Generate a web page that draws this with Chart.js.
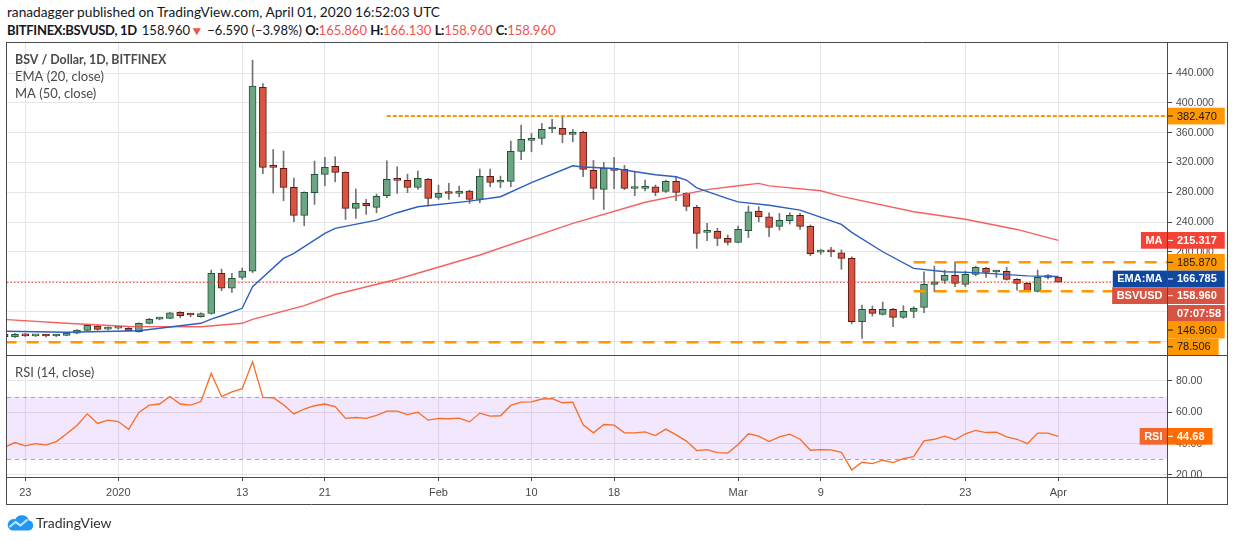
<!DOCTYPE html>
<html><head><meta charset="utf-8">
<title>BSV / Dollar, 1D, BITFINEX</title>
<script src="https://cdn.jsdelivr.net/npm/chart.js@4.4.1/dist/chart.umd.min.js"></script>
<style>
html,body{margin:0;padding:0;background:#fff;}
body{width:1234px;height:541px;position:relative;overflow:hidden;font-family:Lato,'Liberation Sans',sans-serif;color:#131722;}
.hdr{position:absolute;left:7px;white-space:nowrap;line-height:16px;}
#h1{top:4px;font-size:13.7px;}
#h2{top:22px;font-size:13px;}
#h2 b{letter-spacing:-0.3px;}
.r{color:#ef5350}
.tri{color:#ef5350;font-size:12px;display:inline-block;transform:scaleX(1.15);margin:0 1px 0 1px;}
b{font-weight:700}
#cA{position:absolute;left:0;top:42px;width:1234px;height:313px;}
#cB{position:absolute;left:0;top:355px;width:1234px;height:186px;}
#logo{position:absolute;left:6px;top:513px;height:18px;display:flex;align-items:center;}
#logo span{font-size:14px;color:#333;margin-left:2px;font-family:Lato,sans-serif;}
</style></head>
<body>
<div class="hdr" id="h1">ranadagger published on TradingView.com, April 01, 2020 16:52:03 UTC</div>
<div class="hdr" id="h2"><b>BITFINEX:BSVUSD, 1D</b> &thinsp;158.960<span class="tri">▼</span> −6.590 (−3.98%) <b>O:</b><span class="r">165.860</span> <b>H:</b><span class="r">166.130</span> <b>L:</b><span class="r">158.960</span> <b>C:</b><span class="r">158.960</span></div>
<canvas id="cA" width="1234" height="313"></canvas>
<canvas id="cB" width="1234" height="186"></canvas>
<div id="logo"><svg width="28" height="18" viewBox="0 0 28 18"><path d="M6 17.5 H22.5 A5 5 0 0 0 23 7.6 A7.5 7.5 0 0 0 9.2 6.2 A5.6 5.6 0 0 0 6 17.5 Z" fill="#2196f3"/><polyline points="3.5,14 9.5,9 14.5,12.5 21.5,6.5" stroke="#bfe3ff" stroke-width="2.2" fill="none" stroke-linejoin="round"/></svg><span>TradingView</span></div>
<script>
// ---------- DATA ----------
const firstDate = '2019-12-21';          // first candle
const refDate   = '2019-12-23';          // day index 0
const opens = [
  89, 85.5, 89, 87, 87.6, 86.8, 87.6, 90.4, 94.4, 100,
  96, 97.3, 97, 92.5, 103.8, 109.5, 110.5, 118.5, 115.5, 112.6,
  117, 171, 151, 165.6, 174, 421, 314.8, 312, 286.6, 249,
  279.3, 304, 314.8, 306.7, 258.3, 265, 259.7, 275.3, 298.6, 296,
  286.6, 297.3, 273.1, 279, 278.5, 281.6, 270.4, 301.3, 293.5, 294.6,
  335, 349.7, 352.4, 365, 365.9, 357.8, 360.5, 309.4, 283.9, 312,
  310.8, 285, 285.2, 287.4, 281.2, 294.6, 278.5, 259.7, 226, 227.4,
  218, 212.6, 228.2, 254.7, 247, 234.1, 241.7, 248.9, 234.1, 199.5,
  200.5, 198.7, 191.1, 105.9, 122.6, 115.9, 122.6, 111.8, 119.9, 125.3,
  156.2, 161.6, 168.3, 156.2, 169.6, 177.7, 172.8, 173.6, 162.9, 157.5,
  146.8, 165.8, 165.86
];
const highs = [
  90, 90, 90, 88, 89, 89, 91.5, 95.5, 102, 101,
  99, 99, 98, 104.5, 110.5, 112, 118.5, 119.5, 117, 118,
  175.4, 176.7, 171, 178, 457.6, 426, 337.5, 335.3, 299, 280.6,
  321.9, 326.9, 327.7, 307.5, 284.3, 270.4, 277.6, 322.4, 314.2, 304.4,
  308.4, 298.5, 289.7, 291.9, 288.3, 283, 311.1, 311.1, 301.8, 348.8,
  370.3, 359.1, 372.5, 377.9, 382.4, 364.4, 362.2, 322.8, 320.1, 326.8,
  316.1, 307.5, 296.3, 289.7, 296.3, 300.8, 279.6, 262.5, 238.2, 231.5,
  222.6, 234.6, 261.4, 260.5, 252.4, 251.5, 252.4, 251.5, 236, 203.3,
  206, 202.5, 193.3, 128.4, 127, 132.4, 123.9, 127.5, 126.2, 173.1,
  180.7, 175.3, 186.5, 174, 180.7, 178.9, 175.3, 178.9, 164, 158.5,
  175.3, 169.4, 166.13
];
const lows = [
  85, 85, 86, 86, 85.5, 86, 87, 90, 94, 94.5,
  95, 96, 93.5, 92, 103, 108.5, 110, 111.5, 112.5, 112,
  116, 147.6, 145.4, 163, 172, 305, 279, 268.6, 240.3, 235,
  263.7, 288.7, 294, 243.5, 244.9, 250.2, 252.5, 272.6, 278.5, 279.4,
  283.9, 261.4, 270.4, 270.4, 274, 265, 265.9, 287.4, 286.1, 287.4,
  323.9, 334.4, 344.3, 360, 346.5, 347.9, 300.8, 270.4, 256.9, 284.8,
  283.4, 275.4, 281.9, 275.4, 279.7, 268.6, 255.1, 204.6, 214.9, 208.2,
  209.1, 212, 219.1, 240.3, 220.2, 229.2, 237.3, 230.1, 194.8, 196.6,
  193.3, 176.5, 103, 83.6, 113.6, 114.9, 99.3, 110.4, 111.3, 118,
  146.2, 157.4, 152.9, 152.9, 167.7, 165.5, 165.5, 161.9, 148.5, 146.2,
  146, 163.6, 158.96
];
const closes = [
  86, 89, 87, 87.6, 86.8, 87.8, 90.7, 94.8, 101, 95.6,
  98, 97.9, 94, 103.8, 109.1, 110.5, 118, 114, 115, 117,
  171, 151, 164.3, 174, 422.7, 313.4, 313.5, 286.6, 249, 279.8,
  304, 313.4, 306.7, 258.3, 265, 261.5, 274.5, 297.3, 296, 286.6,
  298.6, 271.8, 278.5, 278.3, 281.6, 270.4, 301.3, 293.3, 294.6, 335,
  351, 352.4, 364.5, 365.9, 357.8, 360.5, 310.8, 285.2, 312, 309.4,
  285.2, 285.4, 287.4, 279.8, 294.6, 279.8, 261, 224.7, 226.5, 218,
  212.6, 230.1, 253.8, 247, 232.8, 242.2, 248.9, 234.1, 197.3, 200.5,
  199.8, 191.1, 105.9, 122.6, 117.2, 122.6, 111.8, 119.9, 123.9, 156.2,
  159.7, 168.3, 157.5, 169.6, 179, 172.3, 173.6, 162.9, 157.5, 146.8,
  165.6, 165.4, 158.96
];
const rsiValues = [
  37.7, 40.7, 38.6, 40, 39, 41.3, 46.3, 51.6, 59, 52.9,
  55, 54.1, 49.2, 59.9, 64.6, 65.3, 70.1, 65.3, 64.6, 66.9,
  84.9, 70, 73.1, 75.1, 92.2, 69.5, 69.3, 64.8, 59, 62.1,
  64.2, 65.3, 63.7, 56.1, 56.7, 56.1, 58, 60.8, 60.8, 58.6,
  60, 55, 56.1, 55.9, 56.3, 53.9, 59.5, 57.6, 57.8, 64.4,
  66.5, 66.7, 68.5, 68.7, 66.1, 66.5, 52, 46.9, 52.2, 51.8,
  46.9, 46.9, 47.5, 45.2, 49.3, 45.6, 41.6, 35.6, 36.2, 34.3,
  34, 39.5, 46.3, 44.8, 41.3, 44.3, 46, 42.8, 35.8, 36.2,
  36, 34.5, 23.2, 28.1, 27.2, 29.4, 27.9, 30.4, 31.7, 41.8,
  42.8, 44.8, 42.4, 46.3, 48.4, 47.1, 47.3, 44.3, 42.8, 40,
  46.7, 46.7, 44.68
];
// EMA(20) and MA(50) at these day indices
const emaDays   = [-2, 4, 11, 17, 18, 19, 21, 22, 25, 26, 29, 30, 34, 36, 38, 43, 46, 49, 53, 54, 57, 61, 63, 64, 65, 68, 69, 72, 75, 79, 80, 83, 86, 89, 92, 97, 100];
const emaValues = [93.2, 91.7, 93.8, 103.8, 109.5, 114, 124, 153, 191, 197.8, 224.7, 231.4, 242.6, 252.5, 260.5, 268.1, 274, 293, 315.6, 314, 312, 303.5, 300.8, 296.4, 286, 271.5, 267, 262.5, 256, 236.8, 226, 200, 177.7, 173.2, 171.9, 167.6, 166.785];
const maDays    = [-2, 4, 10, 17, 21, 22, 27, 30, 36, 44, 53, 60, 66, 69, 71, 72, 77, 79, 86, 91, 96, 100];
const maValues  = [109, 103.8, 99.5, 99.2, 103.8, 109, 127.5, 142.5, 163, 195.6, 238.2, 266.5, 283.5, 288.7, 291.9, 288.5, 282, 274.5, 253.8, 243.7, 230, 215.317];
// horizontal levels
const levelValues   = [382.47, 185.87, 146.96, 78.506];
const levelFromDays = [35, 86, 86, -2];
// axes
const xTickDays   = [0, 9, 21, 29, 40, 49, 57, 69, 77, 91, 100];
const xTickLabels = ['23', '2020', '13', '21', 'Feb', '10', '18', 'Mar', '9', '23', 'Apr'];
const priceTicks  = [80, 120, 160, 200, 240, 280, 320, 360, 400, 440];
const rsiTicks    = [20, 40, 60, 80];
const countdown   = '07:07:58';

// ---------- DERIVED ----------
const DAY = 86400000;
const startIdx = (Date.parse(firstDate) - Date.parse(refDate)) / DAY;
const xDays = opens.map((_, i) => startIdx + i);
const lastClose = closes[closes.length - 1];
const emaLast = emaValues[emaValues.length - 1];
const maLast = maValues[maValues.length - 1];
const rsiLast = rsiValues[rsiValues.length - 1];

// ---------- STYLE / LAYOUT ----------
const X_MIN = -1.77, X_MAX = 110.52;
const GRID = '#e6e6e6', FRAME = '#4a4a4a', TXT = '#4a4a4a';
const UP_FILL = '#6ba583', DN_FILL = '#d75442', UP_LINE = '#225437', DN_LINE = '#5b1a13';
const ORANGE = '#ff9800';
const levelStyles = [
  {dash: [4, 2], width: 2},
  {dash: [12, 9], width: 2.5},
  {dash: [12, 9], width: 2.5},
  {dash: [12, 10], width: 2.5}
];
const tickFont = {family: "'Liberation Sans', Arial, sans-serif", size: 10.5};

function xScale(showTicks) {
  return {
    type: 'linear', min: X_MIN, max: X_MAX, offset: false,
    grid: {color: GRID, offset: false, drawTicks: showTicks, tickLength: 4, tickColor: FRAME},
    border: {display: false},
    ticks: {display: showTicks, autoSkip: false, maxRotation: 0, padding: 5, color: TXT,
            font: {family: "'Liberation Sans', Arial, sans-serif", size: 11},
            callback: (v, i) => xTickLabels[i]},
    afterBuildTicks: s => { s.ticks = xTickDays.map(v => ({value: v})); },
    afterFit: s => { s.height = showTicks ? 27 : 0; s.paddingLeft = 0; s.paddingRight = 0; }
  };
}

function line(ctx, x1, y1, x2, y2) { ctx.beginPath(); ctx.moveTo(x1, y1); ctx.lineTo(x2, y2); ctx.stroke(); }

function drawBox(ctx, x, top, w, h, bg, fg, text, bold, align) {
  ctx.fillStyle = bg; ctx.fillRect(x, top, w, h);
  ctx.fillStyle = fg;
  ctx.font = (bold ? 'bold ' : '') + "11px 'Liberation Sans', Arial, sans-serif";
  ctx.textBaseline = 'middle';
  if (align === 'center') { ctx.textAlign = 'center'; ctx.fillText(text, x + w / 2, top + h / 2 + 0.5); }
  else { ctx.textAlign = 'left'; ctx.fillText(text, x + 9, top + h / 2 + 0.5); }
}

const priceLabels = [
  {value: levelValues[0], text: levelValues[0].toFixed(3), bg: ORANGE, fg: '#131722', bold: false},
  {value: maLast, text: maLast.toFixed(3), bg: '#f44336', fg: '#fff', bold: true, tag: 'MA'},
  {value: levelValues[1], text: levelValues[1].toFixed(3), bg: ORANGE, fg: '#131722', bold: false},
  {value: emaLast, text: emaLast.toFixed(3), bg: '#0e48a0', fg: '#fff', bold: true, tag: 'EMA:MA'},
  {value: lastClose, text: lastClose.toFixed(3), bg: '#d75442', fg: '#fff', bold: true, tag: 'BSVUSD', sub: countdown},
  {value: levelValues[2], text: levelValues[2].toFixed(3), bg: ORANGE, fg: '#131722', bold: false},
  {value: levelValues[3], text: levelValues[3].toFixed(3), bg: ORANGE, fg: '#131722', bold: false}
];

const mainDecor = {
  id: 'mainDecor',
  afterDraw(chart) {
    const ctx = chart.ctx, a = chart.chartArea, ys = chart.scales.y;
    ctx.save();
    // frame
    ctx.strokeStyle = FRAME; ctx.lineWidth = 1;
    line(ctx, 6, 0.5, 1228, 0.5);
    line(ctx, 6.5, 0, 6.5, 313);
    line(ctx, 1227.5, 0, 1227.5, 313);
    line(ctx, a.right + 0.5, 0, a.right + 0.5, 313);
    // legend
    ctx.fillStyle = TXT; ctx.textBaseline = 'middle'; ctx.textAlign = 'left';
    ctx.font = "bold 12.4px Lato, 'Liberation Sans', sans-serif";
    ctx.fillText('BSV / Dollar, 1D, BITFINEX', 15, 18);
    ctx.font = "13px Lato, 'Liberation Sans', sans-serif";
    ctx.fillText('EMA (20, close)', 15, 35);
    ctx.fillText('MA (50, close)', 15, 52);
    // price labels on the axis
    const H = 16.7;
    let prevBottom = -1e9;
    const x0 = a.right + 1;
    priceLabels.forEach(l => {
      let top = ys.getPixelForValue(l.value) - H / 2;
      if (top < prevBottom) top = prevBottom;
      ctx.font = (l.bold ? 'bold ' : '') + "11px 'Liberation Sans', Arial, sans-serif";
      const w = ctx.measureText(l.text).width + 17;
      drawBox(ctx, x0, top, w, H, l.bg, l.fg, l.text, l.bold);
      ctx.strokeStyle = l.fg; ctx.lineWidth = 1;
      line(ctx, x0, top + H / 2, x0 + 5, top + H / 2);
      if (l.tag) {
        ctx.font = "bold 11px 'Liberation Sans', Arial, sans-serif";
        const tw = ctx.measureText(l.tag).width + 9;
        drawBox(ctx, a.right - tw, top, tw, H, l.bg, '#fff', l.tag, true, 'center');
      }
      prevBottom = top + H;
      if (l.sub) {
        drawBox(ctx, x0, prevBottom + 1, w, H, l.bg, '#fff', l.sub, true);
        prevBottom += H + 1;
      }
    });
    ctx.restore();
  }
};

const rsiDecor = {
  id: 'rsiDecor',
  beforeDatasetsDraw(chart) {
    const ctx = chart.ctx, a = chart.chartArea, ys = chart.scales.y;
    const y70 = ys.getPixelForValue(70), y30 = ys.getPixelForValue(30);
    ctx.save();
    ctx.fillStyle = 'rgba(150,60,240,0.12)';
    ctx.fillRect(a.left, y70, a.right - a.left, y30 - y70);
    ctx.strokeStyle = '#a8a0b0'; ctx.lineWidth = 1; ctx.setLineDash([4, 4]);
    line(ctx, a.left, Math.round(y70) + 0.5, a.right, Math.round(y70) + 0.5);
    line(ctx, a.left, Math.round(y30) + 0.5, a.right, Math.round(y30) + 0.5);
    ctx.restore();
  },
  afterDraw(chart) {
    const ctx = chart.ctx, a = chart.chartArea, ys = chart.scales.y;
    ctx.save();
    ctx.strokeStyle = FRAME; ctx.lineWidth = 1;
    line(ctx, 6, 0.5, 1228, 0.5);
    line(ctx, 6.5, 0, 6.5, 149.5);
    line(ctx, 1227.5, 0, 1227.5, 149.5);
    line(ctx, a.right + 0.5, 0, a.right + 0.5, 149.5);
    line(ctx, 6, a.bottom + 0.5, 1228, a.bottom + 0.5);
    line(ctx, 6, 149.5, 1228, 149.5);
    ctx.fillStyle = TXT; ctx.textBaseline = 'middle'; ctx.textAlign = 'left';
    ctx.font = "13px Lato, 'Liberation Sans', sans-serif";
    ctx.fillText('RSI (14, close)', 15, 18);
    const H = 16.7, x0 = a.right + 1;
    const top = ys.getPixelForValue(rsiLast) - H / 2;
    const txt = rsiLast.toFixed(2);
    ctx.font = "bold 11px 'Liberation Sans', Arial, sans-serif";
    const w = ctx.measureText(txt).width + 17;
    drawBox(ctx, x0, top, w, H, '#ff6d00', '#fff', txt, true);
    ctx.strokeStyle = '#fff'; line(ctx, x0, top + H / 2, x0 + 5, top + H / 2);
    ctx.font = "bold 11px 'Liberation Sans', Arial, sans-serif";
    const tw = ctx.measureText('RSI').width + 9;
    drawBox(ctx, a.right - tw, top, tw, H, '#f4672a', '#fff', 'RSI', true, 'center');
    ctx.restore();
  }
};

Chart.defaults.font.family = "'Liberation Sans', Arial, sans-serif";

// ---------- MAIN PRICE CHART ----------
const levelSets = levelValues.map((v, i) => ({
  type: 'line', data: [{x: levelFromDays[i], y: v}, {x: X_MAX, y: v}],
  borderColor: ORANGE, borderWidth: levelStyles[i].width, borderDash: levelStyles[i].dash,
  pointRadius: 0, clip: 0
}));
const isUp = closes.map((c, i) => c >= opens[i]);

new Chart(document.getElementById('cA'), {
  type: 'bar',
  data: {
    datasets: [
      {type: 'line', data: emaDays.map((d, i) => ({x: d, y: emaValues[i]})), borderColor: '#2c5fc0', borderWidth: 1.4, pointRadius: 0, clip: 0},
      {type: 'line', data: maDays.map((d, i) => ({x: d, y: maValues[i]})), borderColor: 'rgba(244,80,80,0.9)', borderWidth: 1.4, pointRadius: 0, clip: 0},
      {type: 'line', data: [{x: X_MIN, y: lastClose}, {x: X_MAX, y: lastClose}], borderColor: '#e0402f', borderWidth: 1, borderDash: [1.5, 2], pointRadius: 0, clip: 0},
      ...levelSets,
      {type: 'bar', data: xDays.map((x, i) => ({x, y: [opens[i], closes[i]]})),
       backgroundColor: isUp.map(u => u ? UP_FILL : DN_FILL), borderColor: isUp.map(u => u ? UP_LINE : DN_LINE),
       borderWidth: 1, borderSkipped: false, barThickness: 7, grouped: false, minBarLength: 2, clip: 0},
      {type: 'bar', data: xDays.map((x, i) => ({x, y: [lows[i], highs[i]]})),
       backgroundColor: '#737375', barThickness: 1, grouped: false, clip: 0}
    ]
  },
  options: {
    responsive: false, animation: false, events: [],
    layout: {padding: {left: 7, right: 7, top: 0, bottom: 0}},
    plugins: {legend: {display: false}, tooltip: {enabled: false}},
    scales: {
      x: xScale(false),
      y: {
        type: 'linear', position: 'right', min: 61.2, max: 482,
        grid: {color: GRID, drawTicks: true, tickLength: 5, tickColor: FRAME},
        border: {display: false},
        ticks: {padding: 4, color: TXT, font: tickFont, callback: v => Number(v).toFixed(3)},
        afterBuildTicks: s => { s.ticks = priceTicks.map(v => ({value: v})); },
        afterFit: s => { s.width = 60; s.paddingTop = 0; s.paddingBottom = 0; }
      }
    }
  },
  plugins: [mainDecor]
});

// ---------- RSI CHART ----------
new Chart(document.getElementById('cB'), {
  type: 'line',
  data: {
    datasets: [
      {data: xDays.map((x, i) => ({x, y: rsiValues[i]})), borderColor: '#fb6c22', borderWidth: 1.3, pointRadius: 0, clip: 0}
    ]
  },
  options: {
    responsive: false, animation: false, events: [],
    layout: {padding: {left: 7, right: 7, top: 0, bottom: 37}},
    plugins: {legend: {display: false}, tooltip: {enabled: false}},
    scales: {
      x: xScale(true),
      y: {
        type: 'linear', position: 'right', min: 18.7, max: 96.6,
        grid: {color: GRID, drawTicks: true, tickLength: 5, tickColor: FRAME},
        border: {display: false},
        ticks: {padding: 4, color: TXT, font: tickFont, callback: v => Number(v).toFixed(2)},
        afterBuildTicks: s => { s.ticks = rsiTicks.map(v => ({value: v})); },
        afterFit: s => { s.width = 60; s.paddingTop = 0; s.paddingBottom = 0; }
      }
    }
  },
  plugins: [rsiDecor]
});
</script>
</body></html>
